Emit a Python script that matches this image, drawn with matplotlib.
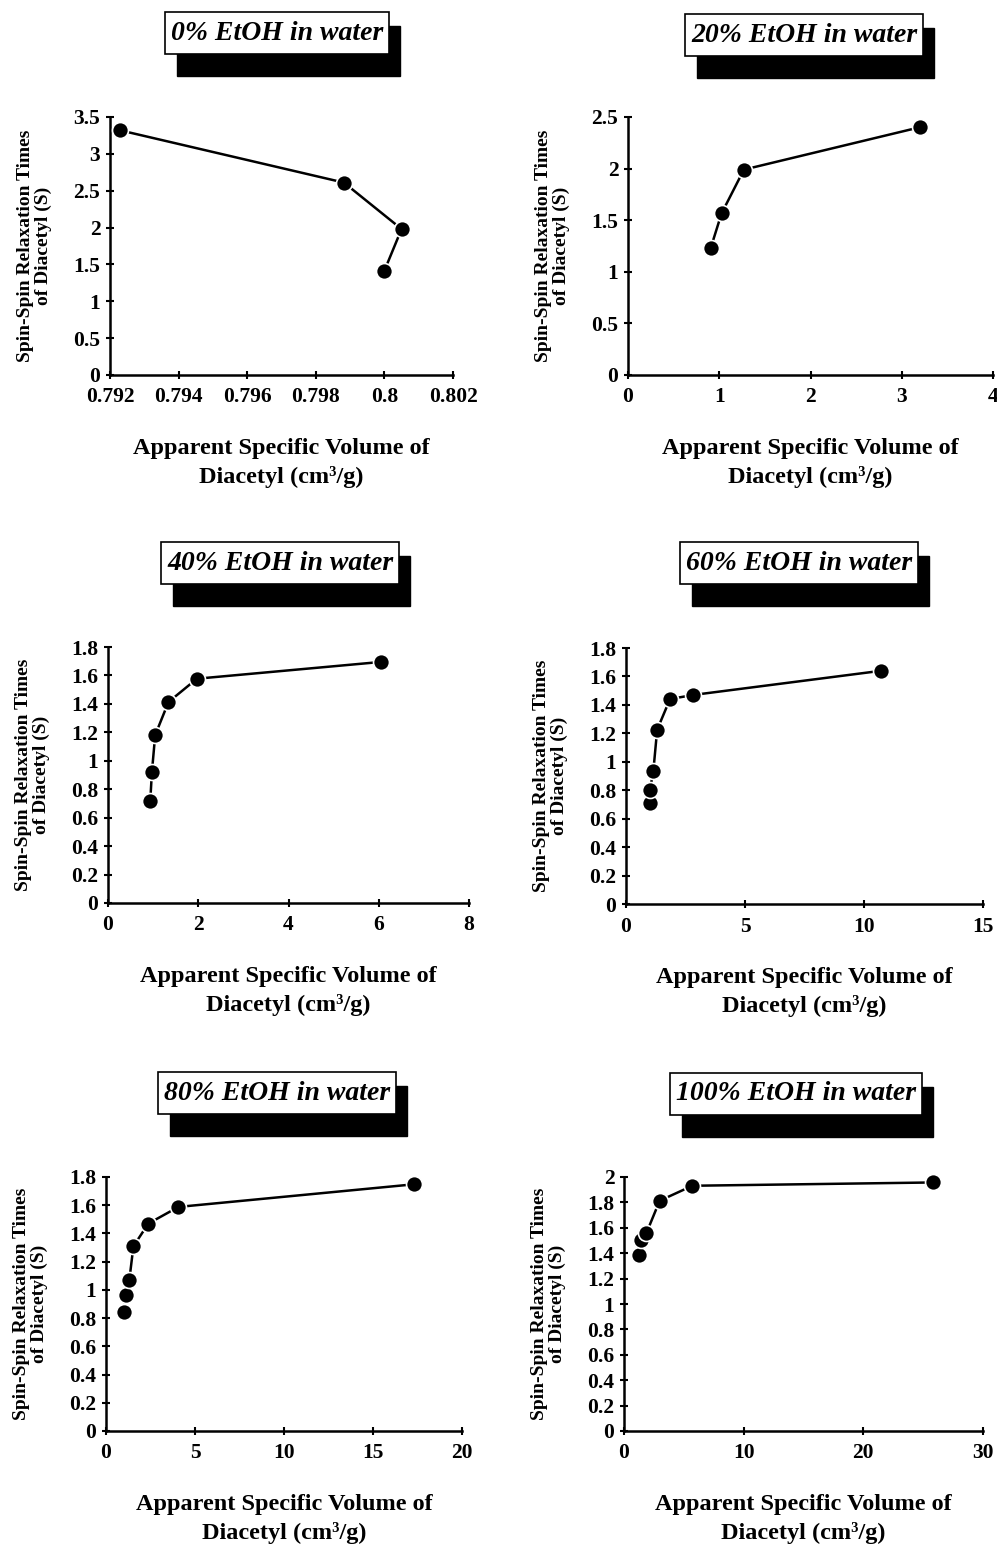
import matplotlib
matplotlib.use('Agg')
import matplotlib.pyplot as plt
import matplotlib.transforms as mtransforms
from matplotlib.patches import Rectangle
import numpy as np

plt.rcParams['font.family'] = ['Liberation Serif', 'DejaVu Serif']
plt.rcParams['font.weight'] = 'bold'

titles = ['0% EtOH in water', '20% EtOH in water', '40% EtOH in water',
          '60% EtOH in water', '80% EtOH in water', '100% EtOH in water']

# apparent specific volume (cm3/g) and T2 (s)
vol_0 = [0.79229, 0.79882, 0.80050, 0.80000]
t2_0 = [3.32, 2.61, 1.98, 1.415]
vol_20 = [0.905, 1.025, 1.27, 3.195]
t2_20 = [1.226, 1.565, 1.99, 2.40]
vol_40 = [0.936, 0.973, 1.046, 1.34, 1.97, 6.05]
t2_40 = [0.714, 0.921, 1.181, 1.413, 1.577, 1.695]
vol_60 = [1.01, 1.01, 1.15, 1.31, 1.85, 2.83, 10.73]
t2_60 = [0.71, 0.804, 0.937, 1.226, 1.441, 1.47, 1.64]
vol_80 = [1.01, 1.125, 1.31, 1.54, 2.38, 4.07, 17.28]
t2_80 = [0.845, 0.963, 1.069, 1.309, 1.47, 1.588, 1.748]
vol_100 = [1.25, 1.45, 1.87, 2.98, 5.71, 25.81]
t2_100 = [1.388, 1.506, 1.558, 1.813, 1.931, 1.957]

series = [(vol_0, t2_0), (vol_20, t2_20), (vol_40, t2_40),
          (vol_60, t2_60), (vol_80, t2_80), (vol_100, t2_100)]

xticks = [[0.792, 0.794, 0.796, 0.798, 0.800, 0.802], [0, 1, 2, 3, 4], [0, 2, 4, 6, 8],
          [0, 5, 10, 15], [0, 5, 10, 15, 20], [0, 10, 20, 30]]
xlabels = [['0.792', '0.794', '0.796', '0.798', '0.8', '0.802']] + \
          [['%g' % v for v in t] for t in xticks[1:]]
yticks = [np.arange(0, 3.51, 0.5), np.arange(0, 2.51, 0.5), np.arange(0, 1.81, 0.2),
          np.arange(0, 1.81, 0.2), np.arange(0, 1.81, 0.2), np.arange(0, 2.01, 0.2)]

# axes boxes in pixels: left, right, top, bottom
W, H = 997, 1547
boxes = [(110, 453, 117, 375), (628, 993, 117, 375),
         (108, 469, 647, 903), (626, 983, 648, 904),
         (106, 462, 1177, 1431), (624, 983, 1177, 1431)]
title_pos = [(277, 33), (804, 35), (280, 563), (799, 563), (277, 1093), (796, 1094)]

fig = plt.figure(figsize=(W / 100, H / 100), dpi=100)

title_texts = []
for i in range(6):
    l, r, t, b = boxes[i]
    ax = fig.add_axes([l / W, 1 - b / H, (r - l) / W, (b - t) / H])
    x, y = series[i]
    ax.plot(x, y, color='black', lw=1.8, marker='o', ms=11.5,
            mfc='black', mec='white', mew=1.2, clip_on=False, zorder=3)

    ax.set_xlim(xticks[i][0], xticks[i][-1])
    ax.set_ylim(yticks[i][0], yticks[i][-1])
    ax.set_xticks(xticks[i])
    ax.set_xticklabels(xlabels[i])
    ax.set_yticks(yticks[i])
    ax.set_yticklabels(['%g' % round(v, 1) for v in yticks[i]])
    for s in ['top', 'right']:
        ax.spines[s].set_visible(False)
    for s in ['left', 'bottom']:
        ax.spines[s].set_linewidth(1.8)
    ax.tick_params(direction='inout', length=6, width=1.5, labelsize=15.5, pad=4)
    ax.tick_params(axis='x', pad=6)
    for lab in ax.get_xticklabels() + ax.get_yticklabels():
        lab.set_fontweight('bold')

    ax.set_xlabel('Apparent Specific Volume of\nDiacetyl (cm\u00b3/g)',
                  fontsize=17.5, fontweight='bold', labelpad=22, linespacing=1.42)
    ax.set_ylabel('Spin-Spin Relaxation Times\nof Diacetyl (S)',
                  fontsize=14, fontweight='bold', labelpad=15, linespacing=1.1)

    tx, ty = title_pos[i]
    tt = fig.text(tx / W, 1 - ty / H, titles[i], ha='center', va='center',
                  fontsize=20, fontweight='bold', style='italic', zorder=5)
    title_texts.append(tt)

# boxes with a drop shadow behind the titles, sized from the drawn text
fig.canvas.draw()
ident = mtransforms.IdentityTransform()
for i, tt in enumerate(title_texts):
    bb = tt.get_window_extent()
    tx, ty = title_pos[i]
    cy = H - ty
    x0, x1 = bb.x0 - 6, bb.x1 + 6
    y0, y1 = cy - 21, cy + 21
    fig.add_artist(Rectangle((x0 + 12, y0 - 22), (x1 + 11) - (x0 + 12), (y1 - 14) - (y0 - 22),
                             transform=ident, fc='black', ec='black', zorder=3))
    fig.add_artist(Rectangle((x0, y0), x1 - x0, y1 - y0, transform=ident,
                             fc='white', ec='black', lw=1.2, zorder=4))

fig.savefig('out.png', dpi=100)
